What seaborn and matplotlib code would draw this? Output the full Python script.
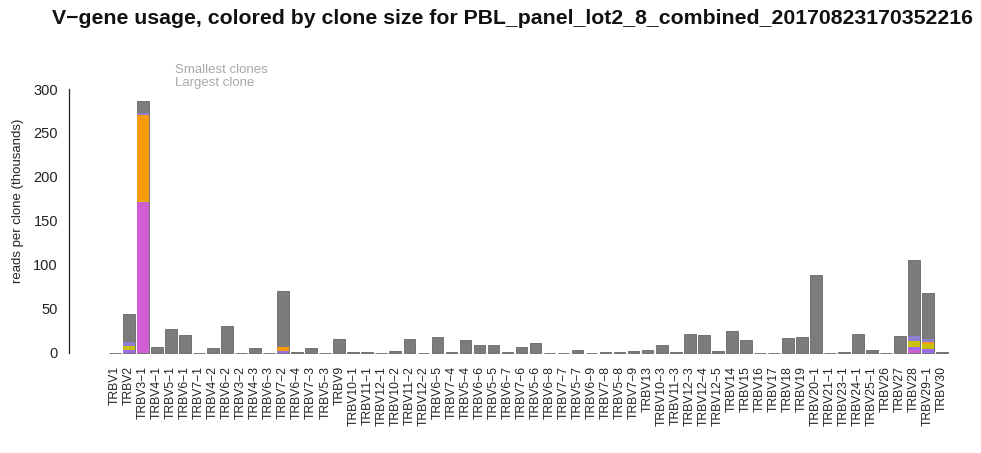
import numpy as np
import pandas as pd
import matplotlib
matplotlib.use("Agg")
import matplotlib.pyplot as plt
import seaborn as sns

MINUS = "\u2212"

genes = [
    "TRBV1", "TRBV2", "TRBV3-1", "TRBV4-1", "TRBV5-1", "TRBV6-1", "TRBV7-1", "TRBV4-2",
    "TRBV6-2", "TRBV3-2", "TRBV4-3", "TRBV6-3", "TRBV7-2", "TRBV6-4", "TRBV7-3", "TRBV5-3",
    "TRBV9", "TRBV10-1", "TRBV11-1", "TRBV12-1", "TRBV10-2", "TRBV11-2", "TRBV12-2", "TRBV6-5",
    "TRBV7-4", "TRBV5-4", "TRBV6-6", "TRBV5-5", "TRBV6-7", "TRBV7-6", "TRBV5-6", "TRBV6-8",
    "TRBV7-7", "TRBV5-7", "TRBV6-9", "TRBV7-8", "TRBV5-8", "TRBV7-9", "TRBV13", "TRBV10-3",
    "TRBV11-3", "TRBV12-3", "TRBV12-4", "TRBV12-5", "TRBV14", "TRBV15", "TRBV16", "TRBV17",
    "TRBV18", "TRBV19", "TRBV20-1", "TRBV21-1", "TRBV23-1", "TRBV24-1", "TRBV25-1", "TRBV26",
    "TRBV27", "TRBV28", "TRBV29-1", "TRBV30",
]

# total reads per V gene (thousands)
total_reads = [
    0.3, 44, 286, 7, 27, 20, 0.5, 6,
    31, 0.3, 6, 0.5, 71, 1.5, 6, 0.5,
    16, 1.5, 1, 0.5, 2, 16, 0.5, 18,
    1, 15, 9, 9, 1, 7, 11, 0.5,
    0.3, 3, 0.5, 1, 1, 2, 3, 9,
    1, 22, 21, 2, 25, 15, 0.5, 0.5,
    17, 18, 89, 0.5, 1, 22, 3, 0.2,
    19, 106, 68, 1,
]

# reads (thousands) held by the largest clones, one array per clone colour,
# listed from the bottom of each bar upwards
clone_magenta = {"TRBV3-1": 172, "TRBV28": 3}
clone_violet = {"TRBV2": 3, "TRBV7-2": 2, "TRBV28": 4, "TRBV29-1": 5}
clone_yellow = {"TRBV2": 5, "TRBV3-1": 1, "TRBV28": 7, "TRBV29-1": 5}
clone_orange = {"TRBV3-1": 98, "TRBV7-2": 5, "TRBV29-1": 3}
clone_lilac = {"TRBV2": 5, "TRBV3-1": 2, "TRBV28": 5, "TRBV29-1": 3}

layers = [
    ("magenta", clone_magenta, "#D15ED3"),
    ("violet", clone_violet, "#9B6CF0"),
    ("yellow", clone_yellow, "#C9C10E"),
    ("orange", clone_orange, "#F59B0C"),
    ("lilac", clone_lilac, "#8F7FD0"),
]

labels = [g.replace("-", MINUS) for g in genes]

sns.set_style("white")
plt.rcParams["font.family"] = ["Liberation Sans", "DejaVu Sans"]

W, H = 981, 453
fig = plt.figure(figsize=(W / 100, H / 100), dpi=100)
ax_left, ax_right, ax_top, ax_bottom = 69, 975, 80, 362
ax = fig.add_axes([ax_left / W, 1 - ax_bottom / H,
                   (ax_right - ax_left) / W, (ax_bottom - ax_top) / H])

# cumulative heights: the full bar first, then the coloured stack top-down
cum = np.zeros(len(genes))
stacks = []
for name, seg, col in layers:
    cum = cum + np.array([seg.get(g, 0.0) for g in genes])
    stacks.append((name, cum.copy(), col))

bar_w = 1 / 1.2
df = pd.DataFrame({"gene": labels, "reads": total_reads})
sns.barplot(data=df, x="gene", y="reads", order=labels, color="#7c7c7c",
            saturation=1, width=bar_w, errorbar=None, edgecolor="#666666",
            linewidth=0.6, ax=ax)
for name, heights, col in reversed(stacks):
    d = pd.DataFrame({"gene": labels, "reads": heights})
    d = d[d["reads"] > 0]
    sns.barplot(data=d, x="gene", y="reads", order=labels, color=col,
                saturation=1, width=bar_w, errorbar=None, edgecolor="none",
                linewidth=0, ax=ax)

# axis ranges and R-like axis styling
px = 14.02
ax.set_xlim(-(115 - ax_left) / px, 59 + (ax_right - 942) / px)
ppu = 0.88
ax.set_ylim(-(ax_bottom - 353) / ppu, (353 - ax_top) / ppu)

for s in ["top", "right", "bottom"]:
    ax.spines[s].set_visible(False)
ax.spines["left"].set_bounds(0, 300)
ax.spines["left"].set_linewidth(0.9)
ax.spines["left"].set_color("#222222")

ax.set_yticks(range(0, 301, 50))
ax.set_yticklabels([str(v) for v in range(0, 301, 50)], fontsize=10.5)
ax.tick_params(axis="y", direction="out", length=4.5, width=0.9, pad=3.5,
               color="#222222", labelcolor="#222222")
ax.tick_params(axis="x", length=0, pad=3, labelsize=8.7, labelrotation=90,
               labelcolor="#222222")
ax.set_xticks(range(len(labels)))
ax.set_xticklabels(labels, rotation=90, va="top", ha="center")

ax.set_xlabel("")
ax.set_ylabel("")
fig.text(18 / W, 1 - 201 / H, "reads per clone (thousands)", rotation=90,
         fontsize=9.5, color="#222222", ha="center", va="center")

fig.text(512 / W, 1 - 18 / H,
         "V" + MINUS + "gene usage, colored by clone size for "
         "PBL_panel_lot2_8_combined_20170823170352216",
         ha="center", va="center", fontsize=15.3, fontweight="bold",
         color="#111111")

fig.text(175 / W, 1 - 70 / H, "Smallest clones", fontsize=9.5,
         color="#a8a8a8", ha="left", va="center")
fig.text(175 / W, 1 - 83 / H, "Largest clone", fontsize=9.5,
         color="#a8a8a8", ha="left", va="center")

fig.savefig("out.png", dpi=100)
